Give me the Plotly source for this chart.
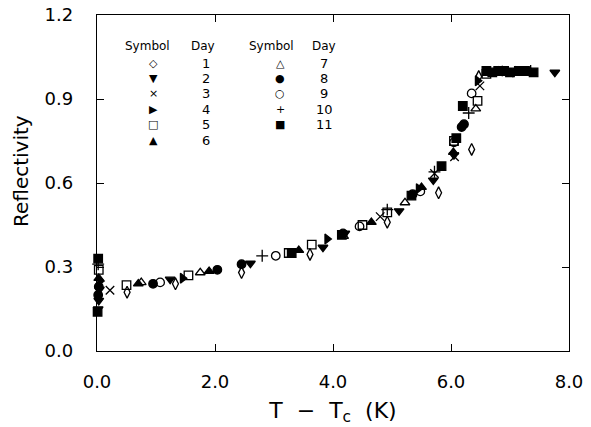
import plotly.graph_objects as go

# ---- data (T - Tc in K, reflectivity) per day ----
day1_x = [0.02, 0.51, 1.33, 2.45, 3.61, 4.92, 5.79, 6.35, 6.47]
day1_y = [0.20, 0.21, 0.24, 0.28, 0.345, 0.46, 0.565, 0.72, 0.98]

day2_x = [0.02, 0.03, 0.04, 1.24, 2.60, 3.83, 4.20, 5.12, 5.70, 6.05, 6.95, 7.05, 7.76]
day2_y = [0.15, 0.18, 0.22, 0.256, 0.313, 0.37, 0.42, 0.50, 0.61, 0.70, 1.0, 0.995, 0.995]

day3_x = [0.22, 4.80, 5.72, 6.06, 6.49]
day3_y = [0.217, 0.48, 0.634, 0.694, 0.947]

day4_x = [0.05, 1.45, 3.90, 5.45, 6.45, 6.90]
day4_y = [0.25, 0.26, 0.40, 0.58, 0.965, 1.0]

day5_x = [0.03, 0.50, 1.55, 3.25, 3.64, 4.50, 4.92, 6.05, 6.45, 6.60]
day5_y = [0.29, 0.235, 0.27, 0.35, 0.38, 0.45, 0.495, 0.75, 0.893, 0.99]

day6_x = [0.03, 0.70, 1.90, 3.42, 4.65, 5.50, 6.04, 6.80]
day6_y = [0.26, 0.24, 0.285, 0.36, 0.46, 0.585, 0.71, 1.0]

day7_x = [0.75, 1.75, 4.18, 5.22, 6.42, 7.10]
day7_y = [0.245, 0.28, 0.41, 0.53, 0.865, 1.0]

day8_x = [0.02, 0.03, 0.95, 2.04, 2.45, 4.17, 5.35, 6.18, 6.22, 7.20]
day8_y = [0.20, 0.23, 0.24, 0.29, 0.31, 0.42, 0.56, 0.80, 0.81, 1.0]

day9_x = [1.07, 3.03, 4.45, 5.48, 6.05, 6.35, 7.30]
day9_y = [0.245, 0.34, 0.445, 0.57, 0.745, 0.92, 1.0]

day10_x = [0.02, 2.80, 4.92, 5.72, 6.30, 7.35]
day10_y = [0.31, 0.34, 0.505, 0.64, 0.85, 1.0]

day11_x = [0.01, 0.02, 3.30, 4.15, 5.33, 5.84, 6.09, 6.20, 6.60, 6.70, 6.80, 6.90, 7.00, 7.15, 7.25, 7.40]
day11_y = [0.14, 0.33, 0.35, 0.415, 0.555, 0.66, 0.76, 0.875, 1.0, 0.995, 1.0, 1.0, 0.995, 1.0, 1.0, 0.995]

days = ["1", "2", "3", "4", "5", "6", "7", "8", "9", "10", "11"]
symbols = ["diamond-tall-open", "triangle-down", "x-thin-open", "triangle-right",
           "square-open", "triangle-up", "triangle-up-open", "circle",
           "circle-open", "cross-thin-open", "square"]
glyphs = ["◇", "▼", "×", "▶", "□", "▲", "△", "●", "○", "+", "■"]
xs = [day1_x, day2_x, day3_x, day4_x, day5_x, day6_x, day7_x, day8_x, day9_x, day10_x, day11_x]
ys = [day1_y, day2_y, day3_y, day4_y, day5_y, day6_y, day7_y, day8_y, day9_y, day10_y, day11_y]

x_ticks = [0, 2, 4, 6, 8]
x_tick_labels = ["0.0", "2.0", "4.0", "6.0", "8.0"]
y_ticks = [0, 0.3, 0.6, 0.9, 1.2]
y_tick_labels = ["0.0", "0.3", "0.6", "0.9", "1.2"]

FONT = "DejaVu Sans"
W, H, L, R, T, B = 591, 427, 97, 22, 15, 76
pw, ph = W - L - R, H - T - B

fig = go.Figure()
for d, s, x, y in zip(days, symbols, xs, ys):
    fig.add_trace(go.Scatter(
        x=x, y=y, mode="markers", name="Day " + d, cliponaxis=False,
        marker=dict(symbol=s, size=8.5, color="black",
                    line=dict(color="black", width=1.3)),
        showlegend=False))

# legend table as text
ann = []
def txt(x, y, t, size=12):
    ann.append(dict(x=x, y=y, xref="x", yref="y", text=t, showarrow=False,
                    font=dict(family=FONT, size=size, color="black"),
                    xanchor="center", yanchor="middle"))

txt(0.85, 1.089, "Symbol", 12)
txt(1.80, 1.089, "Day", 12)
txt(2.96, 1.089, "Symbol", 12)
txt(3.85, 1.089, "Day", 12)
row_y = [1.028, 0.972, 0.918, 0.861, 0.808, 0.751]
for i in range(6):
    txt(0.95, row_y[i], glyphs[i], 11)
    txt(1.84, row_y[i], days[i], 13)
for i in range(6, 11):
    txt(3.11, row_y[i - 6], glyphs[i], 11)
    txt(3.85, row_y[i - 6], days[i], 13)

# y-axis title (slightly above centre, as in the original)
ann.append(dict(x=(21 - L) / pw, y=(H - B - 171) / ph, xref="paper", yref="paper",
                text="Reflectivity", textangle=-90, showarrow=False,
                font=dict(family=FONT, size=20, color="black"),
                xanchor="center", yanchor="middle"))

fig.update_layout(
    width=W, height=H,
    margin=dict(l=L, r=R, t=T, b=B),
    paper_bgcolor="white", plot_bgcolor="white",
    font=dict(family=FONT, color="black"),
    annotations=ann,
    xaxis=dict(range=[0, 8], tickvals=x_ticks, ticktext=x_tick_labels,
               ticks="inside", ticklen=7, tickwidth=1.2, tickcolor="black",
               showline=True, linecolor="black", linewidth=1.3, mirror="ticks",
               showgrid=False, zeroline=False, automargin=False,
               tickfont=dict(size=18), ticklabelstandoff=14,
               title=dict(text="T  −  T<sub>c</sub>  (K)", font=dict(size=22), standoff=11)),
    yaxis=dict(range=[0, 1.2], tickvals=y_ticks, ticktext=y_tick_labels,
               ticks="inside", ticklen=7, tickwidth=1.2, tickcolor="black",
               showline=True, linecolor="black", linewidth=1.3, mirror="ticks",
               showgrid=False, zeroline=False, automargin=False,
               tickfont=dict(size=18), ticklabelstandoff=19),
)

fig.write_html("out.html", config={"displayModeBar": False},
               post_script="document.body.style.margin='0px';document.body.style.overflow='hidden';")
